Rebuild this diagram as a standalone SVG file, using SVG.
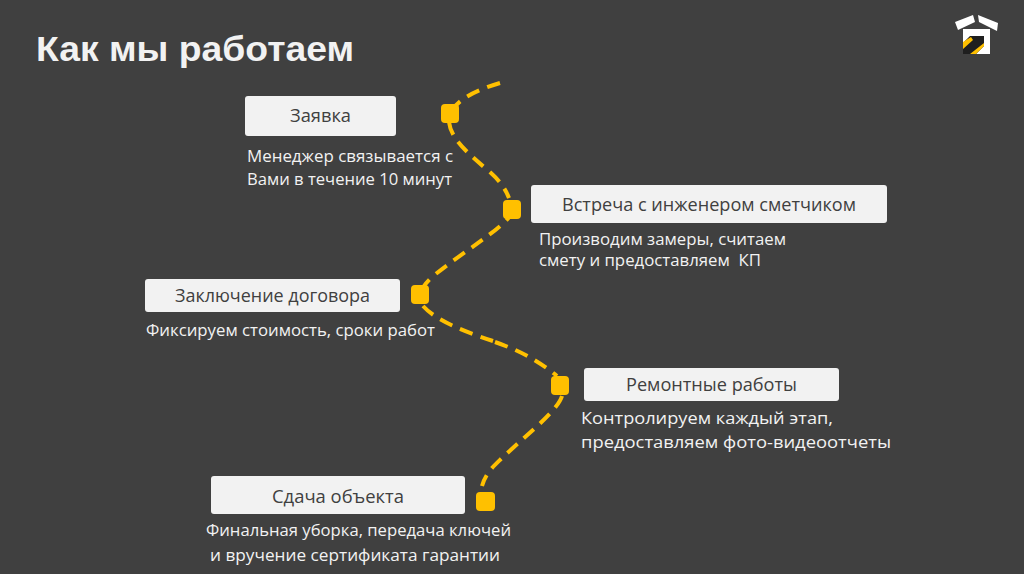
<svg xmlns="http://www.w3.org/2000/svg" width="1024" height="574" viewBox="0 0 1024 574">
<style>
text{font-family:"Open Sans","Noto Sans",sans-serif;fill:#f2f2f2;font-size:17px;white-space:pre}
.h{font-family:"Liberation Sans",Arial,sans-serif;font-weight:700;font-size:35px}
.t{fill:#404040;font-size:18px}
.b{fill:#f2f2f2}
.d{fill:#ffc000}
.c{fill:none;stroke:#ffc000;stroke-width:4;stroke-dasharray:13.5 8.5}
</style>
<rect width="1024" height="574" fill="#404040"/>
<text class="h" x="36" y="61" textLength="318" lengthAdjust="spacingAndGlyphs">Как мы работаем</text>
<g id="logo">
<path d="M955 22 L973 15 L975 22 L958 30 Z M978 15 L998 23 L997 31 L979 22 Z" fill="#fff"/>
<rect x="963" y="29" width="27" height="25" fill="#fff"/>
<path d="M963 54 V43 L970 36 H984 V46 L976 54 Z" fill="#1f1f1f"/>
<path d="M963 42 L971 37 L973 40 L963 49 Z M970 54 L984 43 V46 L976 54 Z" fill="#ffc000"/>
</g>
<g id="connectors">
<path class="c" d="M500 83 C480 89 458 98 450 113"/>
<path class="c" d="M449 122 C451 140 470 155 491 173 C500 181 506 190 509 198"/>
<path class="c" d="M510 216 C500 230 460 254 432 277 C428 281 426 283 424 286" stroke-dashoffset="7.5"/>
<path class="c" d="M423 306 C432 316 450 327 493 341"/>
<path class="c" d="M495 342 C515 349 535 358 557 376"/>
<path class="c" d="M562 396 C558 410 530 432 503 457 C495 465 486 472 482 486"/>
</g>
<g id="n1"><rect class="b" x="245" y="96" width="151" height="40" rx="3"/><text class="t" x="290" y="122" textLength="61" lengthAdjust="spacingAndGlyphs">Заявка</text>
<text x="247" y="162" textLength="206" lengthAdjust="spacingAndGlyphs">Менеджер связывается с</text><text x="247" y="185" textLength="205" lengthAdjust="spacingAndGlyphs">Вами в течение 10 минут</text>
<rect class="d" x="441" y="104" width="18" height="19" rx="4"/></g>
<g id="n2"><rect class="b" x="531" y="185" width="356" height="38" rx="3"/><text class="t" x="562" y="211" textLength="294" lengthAdjust="spacingAndGlyphs">Встреча с инженером сметчиком</text>
<text x="539" y="245" textLength="247" lengthAdjust="spacingAndGlyphs">Производим замеры, считаем</text><text x="539" y="266" textLength="222" lengthAdjust="spacingAndGlyphs">смету и предоставляем  КП</text>
<rect class="d" x="503" y="200" width="18" height="19" rx="4"/></g>
<g id="n3"><rect class="b" x="145" y="279" width="255" height="33" rx="3"/><text class="t" x="175" y="302" textLength="195" lengthAdjust="spacingAndGlyphs">Заключение договора</text>
<text x="146" y="336" textLength="289" lengthAdjust="spacingAndGlyphs">Фиксируем стоимость, сроки работ</text>
<rect class="d" x="411" y="285" width="18" height="19" rx="4"/></g>
<g id="n4"><rect class="b" x="584" y="368" width="255" height="33" rx="3"/><text class="t" x="626" y="391" textLength="171" lengthAdjust="spacingAndGlyphs">Ремонтные работы</text>
<text x="581" y="424" textLength="252" lengthAdjust="spacingAndGlyphs">Контролируем каждый этап,</text><text x="581" y="448" textLength="310" lengthAdjust="spacingAndGlyphs">предоставляем фото-видеоотчеты</text>
<rect class="d" x="551" y="376" width="18" height="19" rx="4"/></g>
<g id="n5"><rect class="b" x="211" y="476" width="254" height="38" rx="3"/><text class="t" x="272" y="503" textLength="132" lengthAdjust="spacingAndGlyphs">Сдача объекта</text>
<text x="206" y="536" textLength="305" lengthAdjust="spacingAndGlyphs">Финальная уборка, передача ключей</text><text x="210" y="561" textLength="290" lengthAdjust="spacingAndGlyphs">и вручение сертификата гарантии</text>
<rect class="d" x="476" y="492" width="19" height="19" rx="4"/></g>
</svg>
